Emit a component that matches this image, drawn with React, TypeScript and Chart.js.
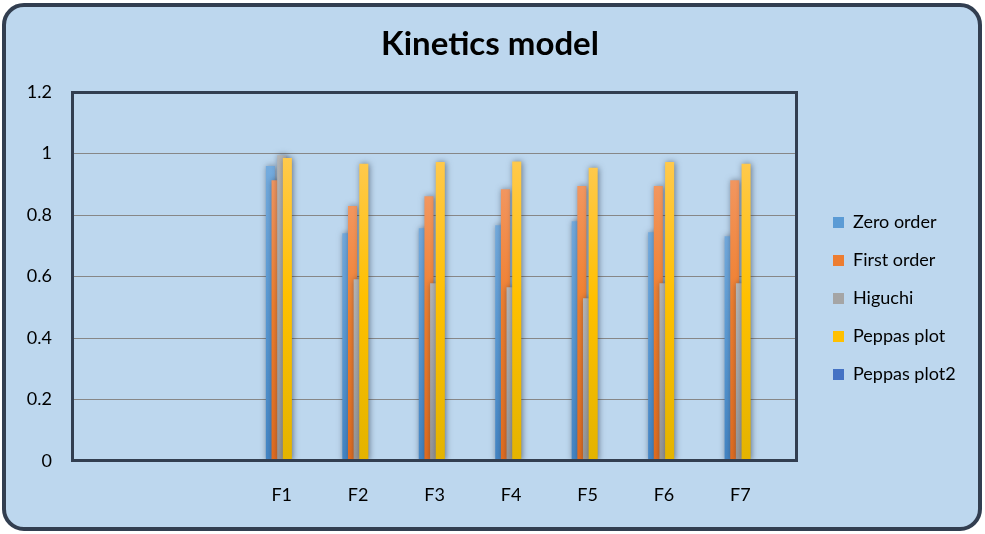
import React, { useEffect, useRef } from 'react';
import { Chart, registerables } from 'chart.js';

Chart.register(...registerables);

// ---- data ----
const categories = ['F1', 'F2', 'F3', 'F4', 'F5', 'F6', 'F7'];
const zeroOrder = [0.959, 0.741, 0.757, 0.767, 0.78, 0.744, 0.731];
const firstOrder = [0.913, 0.829, 0.861, 0.884, 0.894, 0.894, 0.913];
const higuchi = [0.994, 0.591, 0.578, 0.565, 0.529, 0.578, 0.578];
const peppasPlot = [0.985, 0.967, 0.972, 0.974, 0.954, 0.972, 0.967];
const peppasPlot2: (number | null)[] = [null, null, null, null, null, null, null];

const seriesNames = ['Zero order', 'First order', 'Higuchi', 'Peppas plot', 'Peppas plot2'];
const seriesValues = [zeroOrder, firstOrder, higuchi, peppasPlot, peppasPlot2];

// axis settings
const yMin = 0;
const yMax = 1.2;
const yStep = 0.2;
const xMin = -2.73;
const xMax = 6.74;

// styles
const baseColors = ['#5b9bd5', '#ed7d31', '#a5a5a5', '#ffc000', '#4472c4'];
const gradientStops = [
  ['#74abde', '#5b9bd5', '#4385c5'],
  ['#f2965f', '#f07e2c', '#e26c1e'],
  ['#b5b5b5', '#a7a7a7', '#959595'],
  ['#ffc94c', '#ffc000', '#e3b300'],
  ['#5b86d0', '#4472c4', '#3560b0'],
];
const FONT = 'Lato, "Open Sans", "DejaVu Sans", sans-serif';

const CANVAS_W = 985;
const CANVAS_H = 534;
const PLOT_LEFT = 73;
const LEGEND_LEFT = 813;
const TITLE_CENTER = 490;

export default function App() {
  const ref = useRef<HTMLCanvasElement>(null);

  useEffect(() => {
    const canvas = ref.current;
    if (!canvas) return;

    let padL = 0;
    let padR = 5;

    const barFill = (i: number) => (c: any) => {
      if (c.type !== 'data' || !c.parsed || c.parsed.y == null) return baseColors[i];
      const chart = c.chart;
      const ys = chart.scales.y;
      if (!ys) return baseColors[i];
      const top = ys.getPixelForValue(c.parsed.y);
      const bottom = ys.getPixelForValue(0);
      if (!isFinite(top) || !isFinite(bottom) || bottom - top < 1) return baseColors[i];
      const g = chart.ctx.createLinearGradient(0, top, 0, bottom);
      g.addColorStop(0, gradientStops[i][0]);
      g.addColorStop(0.45, gradientStops[i][1]);
      g.addColorStop(1, gradientStops[i][2]);
      return g;
    };

    const orderedBars = {
      id: 'orderedBars',
      beforeDatasetsDraw(chart: any) {
        const { ctx, chartArea: a } = chart;
        ctx.save();
        ctx.beginPath();
        ctx.rect(a.left, a.top, a.right - a.left, a.bottom - a.top);
        ctx.clip();
        ctx.shadowColor = 'rgba(30, 40, 60, 0.55)';
        ctx.shadowBlur = 6;
        ctx.shadowOffsetX = 1;
        ctx.shadowOffsetY = 0;
        chart.data.datasets.forEach((_: any, i: number) => {
          if (chart.isDatasetVisible(i)) chart.getDatasetMeta(i).controller.draw();
        });
        ctx.restore();
        // plot-area frame
        ctx.save();
        ctx.strokeStyle = '#323e50';
        ctx.lineWidth = 3;
        ctx.strokeRect(a.left - 0.5, a.top + 0.5, a.right - a.left, a.bottom - a.top - 1);
        ctx.restore();
        return false;
      },
    };

    const fmt = (v: any) => String(Number(Number(v).toFixed(2)));

    const chart = new Chart(canvas, {
      type: 'bar',
      data: {
        datasets: seriesNames.map((name, i) => ({
          label: name,
          data: categories.map((_, j) => ({ x: j, y: seriesValues[i][j] })),
          backgroundColor: barFill(i),
          borderWidth: 0,
          categoryPercentage: 0.37,
          barPercentage: 1.6,
        })),
      },
      options: {
        responsive: false,
        maintainAspectRatio: false,
        animation: false,
        events: [],
        layout: { padding: { left: padL, right: padR, top: 0, bottom: 0 } },
        plugins: {
          title: {
            display: true,
            text: 'Kinetics model',
            color: '#000',
            font: { family: FONT, size: 33, weight: 'bold', lineHeight: 1.2 },
            padding: { top: 25, bottom: 27.4 },
          },
          legend: {
            display: true,
            position: 'right',
            fullSize: false,
            align: 'center',
            title: { display: true, text: '', font: { size: 10 }, padding: { top: 32, bottom: 0 } },
            labels: {
              boxWidth: 11,
              boxHeight: 11,
              padding: 20,
              color: '#000',
              font: { family: FONT, size: 18 },
              generateLabels: (ch: any) => {
                const items = (Chart.defaults.plugins.legend.labels as any).generateLabels(ch);
                items.forEach((it: any, k: number) => {
                  it.fillStyle = baseColors[k];
                  it.strokeStyle = baseColors[k];
                  it.lineWidth = 0;
                });
                return items;
              },
            },
          },
          tooltip: { enabled: false },
        },
        scales: {
          x: {
            type: 'linear',
            position: 'bottom',
            offset: false,
            min: xMin,
            max: xMax,
            grid: { display: false, offset: false },
            border: { display: false },
            afterBuildTicks: (s: any) => {
              s.ticks = categories.map((_, i) => ({ value: i }));
            },
            afterFit: (s: any) => {
              s.height = 73;
            },
            ticks: {
              autoSkip: false,
              maxRotation: 0,
              padding: 15,
              color: '#000',
              font: { family: FONT, size: 18 },
              callback: (v: any) => categories[v as number] ?? '',
            },
          },
          y: {
            min: yMin,
            max: yMax,
            afterFit: (s: any) => {
              s.width = PLOT_LEFT - padL;
            },
            grid: { color: '#878787', lineWidth: 1, drawTicks: false },
            border: { display: false },
            ticks: {
              stepSize: yStep,
              padding: 21,
              color: '#000',
              font: { family: FONT, size: 18 },
              callback: fmt,
            },
          },
          gapRight: {
            type: 'linear',
            position: 'right',
            weight: 0,
            grid: { display: false },
            border: { display: false },
            ticks: { display: false },
            afterFit: (s: any) => {
              s.width = 16;
            },
          },
        },
      } as any,
      plugins: [orderedBars],
    });

    if (chart.legend) {
      const w = chart.legend.width;
      padR = Math.max(0, CANVAS_W - LEGEND_LEFT - w);
      // keep the full-width title centred where the reference has it
      padL = Math.max(0, 2 * TITLE_CENTER - CANVAS_W + padR);
      (chart.options as any).layout.padding = { left: padL, right: padR, top: 0, bottom: 0 };
      chart.update();
    }

    return () => chart.destroy();
  }, []);

  return (
    <div
      style={{
        position: 'fixed',
        left: 0,
        top: 0,
        width: CANVAS_W,
        height: CANVAS_H,
        overflow: 'hidden',
        background: '#ffffff',
      }}
    >
      <div
        style={{
          position: 'absolute',
          left: 2,
          top: 3,
          width: 980,
          height: 528,
          boxSizing: 'border-box',
          border: '4px solid #323e50',
          borderRadius: 22,
          background: '#bdd7ee',
        }}
      />
      <canvas
        ref={ref}
        width={CANVAS_W}
        height={CANVAS_H}
        style={{ position: 'absolute', left: 0, top: 0, width: CANVAS_W, height: CANVAS_H }}
      />
    </div>
  );
}
